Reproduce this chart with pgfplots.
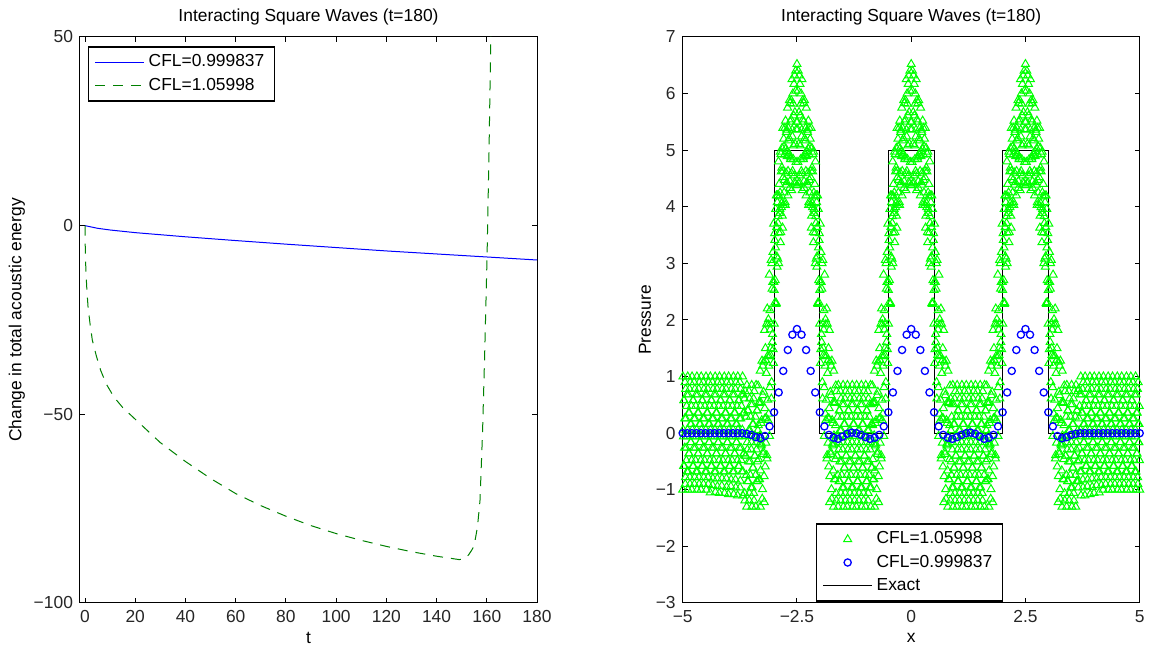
\documentclass[border=0pt]{standalone}
\usepackage{fontspec}
\setmainfont{Liberation Sans}
\usepackage{pgfplots}
\pgfplotsset{compat=1.18}
\newcommand\fs{\fontsize{8.7}{10}\selectfont}
\definecolor{mgreen}{rgb}{0,1,0}
\definecolor{dgreen}{rgb}{0,0.5,0}
\pgfplotsset{
  mat/.style={
    scale only axis, width=228.5pt, height=283pt, anchor=south west,
    font=\fs, tick align=inside, major tick length=2.5pt,
    axis line style={black, line width=0.5pt},
    every tick/.style={black, line width=0.5pt},
    tick label style={text=black!85},
    title={Interacting Square Waves (t=180)},
    every axis title shift=0pt,
    title style={at={(axis description cs:0.5,1.0353)}, anchor=center},
    xlabel style={at={(axis description cs:0.5,-0.0618)}, anchor=center},
    legend cell align=left,
    legend style={draw=black, line width=0.75pt, fill=white, font=\fs,
      inner xsep=3pt, inner ysep=2pt, row sep=0pt, nodes={inner sep=2pt}},
  },
  lline/.style={legend image code/.code={\draw[##1] (0pt,0pt) -- (24.5pt,0pt);}},
  lmark/.style={legend image code/.code={\path[draw=none] (0pt,0pt) -- (24.5pt,0pt);
      \draw[##1] plot coordinates {(12.25pt,0pt)};}},
  gtri/.style={only marks, mark=triangle, mark size=2.3pt, mgreen, line width=0.5pt},
}

\begin{document}
\begin{tikzpicture}
\useasboundingbox (0,0) rectangle (575pt,323pt);

% left: energy change
\begin{axis}[mat, at={(40pt,21.5pt)},
  xmin=-2, xmax=180, ymin=-100, ymax=50,
  xtick={0,20,40,60,80,100,120,140,160,180},
  xticklabels={0,20,40,60,80,100,120,140,160,180},
  ytick={-100,-50,0,50}, yticklabels={−100,−50,0,50},
  xlabel={t}, ylabel={Change in total acoustic energy},
  ylabel style={at={(axis description cs:-0.138,0.5)}, anchor=center},
  legend style={at={(0.0175,0.984)}, anchor=north west},
]
\addplot[blue, line width=0.5pt, lline] coordinates {
  (0,0) (5,-0.7) (10,-1.15) (20,-1.85) (40,-2.95) (60,-3.95) (80,-4.9)
  (100,-5.8) (120,-6.7) (140,-7.5) (160,-8.3) (180,-9.1)
};
\addplot[dgreen, line width=0.5pt, dash pattern=on 5pt off 4pt, lline] coordinates {
  (0,0) (0.05,-4) (0.15,-7.5) (0.3,-10.9) (0.5,-14) (0.7,-16.5) (1.2,-21.5)
  (2,-26) (2.9,-30.3) (4.5,-34.5) (6.2,-38.3) (8.5,-42) (11.5,-45.4) (15,-48.2)
  (20,-51.3) (30,-57.5) (40,-62.5) (50,-67) (60,-71) (70,-74.2) (80,-77)
  (90,-79.5) (100,-81.6) (110,-83.4) (120,-85) (130,-86.4) (140,-87.6)
  (145,-88.1) (149,-88.5) (151,-88.3) (152.7,-87.3) (154,-86) (155,-84.7)
  (156.3,-79.8) (157.3,-72.8) (158.3,-55) (159.2,-33) (160.1,-8.5)
  (160.9,20) (161.6,50) (162,65)
};
\legend{CFL=0.999837, CFL=1.05998}
\end{axis}

% right: pressure
\begin{axis}[mat, at={(341.35pt,21.5pt)},
  xmin=-5, xmax=5, ymin=-3, ymax=7,
  xtick={-5,-2.5,0,2.5,5}, xticklabels={−5,−2.5,0,2.5,5},
  ytick={-3,...,7}, yticklabels={−3,−2,−1,0,1,2,3,4,5,6,7},
  xlabel={x}, ylabel={Pressure},
  ylabel style={at={(axis description cs:-0.0824,0.5)}, anchor=center},
  legend style={at={(0.2915,0.1413)}, anchor=north west},
]
\addplot[gtri, lmark] coordinates {
(-5.00,-1.00)(-4.99,0.06)(-4.98,-0.58)(-4.97,0.58)(-4.96,-0.26)(-4.95,0.90)(-4.94,-0.78)(-4.93,0.26)(-4.92,-0.48)(-4.91,0.68)(-4.90,-0.06)(-4.89,1.00)(-4.88,-0.68)(-4.87,0.36)(-4.86,-0.36)(-4.85,0.78)(-4.84,-0.90)(-4.83,0.16)(-4.82,-0.16)(-4.81,0.48)
(-4.80,-1.00)(-4.79,0.06)(-4.78,-0.58)(-4.77,0.58)(-4.76,-0.26)(-4.75,0.90)(-4.74,-0.78)(-4.73,0.26)(-4.72,-0.48)(-4.71,0.68)(-4.70,-0.06)(-4.69,1.00)(-4.68,-0.68)(-4.67,0.36)(-4.66,-0.36)(-4.65,0.78)(-4.64,-0.90)(-4.63,0.16)(-4.62,-0.16)(-4.61,0.48)
(-4.60,-1.00)(-4.59,0.06)(-4.58,-0.58)(-4.57,0.58)(-4.56,-0.26)(-4.55,0.90)(-4.54,-0.78)(-4.53,0.26)(-4.52,-0.48)(-4.51,0.68)(-4.50,-0.06)(-4.49,1.00)(-4.48,-0.68)(-4.47,0.36)(-4.46,-0.36)(-4.45,0.78)(-4.44,-0.90)(-4.43,0.16)(-4.42,-0.16)(-4.41,0.48)
(-4.40,-1.05)(-4.39,0.06)(-4.38,-0.58)(-4.37,0.58)(-4.36,-0.26)(-4.35,0.90)(-4.34,-0.80)(-4.33,0.26)(-4.32,-0.48)(-4.31,0.68)(-4.30,-0.06)(-4.29,1.00)(-4.28,-0.68)(-4.27,0.36)(-4.26,-0.36)(-4.25,0.78)(-4.24,-0.94)(-4.23,0.16)(-4.22,-0.16)(-4.21,0.48)
(-4.20,-1.06)(-4.19,0.06)(-4.18,-0.58)(-4.17,0.58)(-4.16,-0.26)(-4.15,0.90)(-4.14,-0.80)(-4.13,0.26)(-4.12,-0.48)(-4.11,0.68)(-4.10,-0.06)(-4.09,1.00)(-4.08,-0.68)(-4.07,0.36)(-4.06,-0.36)(-4.05,0.78)(-4.04,-0.95)(-4.03,0.16)(-4.02,-0.16)(-4.01,0.48)
(-4.00,-1.08)(-3.99,0.06)(-3.98,-0.58)(-3.97,0.58)(-3.96,-0.26)(-3.95,0.90)(-3.94,-0.82)(-3.93,0.26)(-3.92,-0.48)(-3.91,0.68)(-3.90,-0.06)(-3.89,1.00)(-3.88,-0.68)(-3.87,0.36)(-3.86,-0.36)(-3.85,0.78)(-3.84,-0.96)(-3.83,0.16)(-3.82,-0.16)(-3.81,0.48)
(-3.80,-1.10)(-3.79,0.06)(-3.78,-0.58)(-3.77,0.58)(-3.76,-0.26)(-3.75,0.90)(-3.74,-0.84)(-3.73,0.26)(-3.72,-0.48)(-3.71,0.68)(-3.70,-0.06)(-3.69,1.00)(-3.68,-0.68)(-3.67,0.36)(-3.66,-0.36)
(-3.65,0.61)(-3.64,-1.19)(-3.63,-0.05)(-3.62,-0.40)(-3.61,0.29)(-3.60,-1.30)(-3.59,-0.16)(-3.58,-0.85)(-3.57,0.40)(-3.56,-0.50)(-3.55,0.74)(-3.54,-1.06)(-3.53,0.05)(-3.52,-0.74)(-3.51,0.51)(-3.50,-0.29)(-3.49,0.85)(-3.48,-0.96)(-3.47,0.16)(-3.46,-0.61)
(-3.45,0.61)(-3.44,-1.19)(-3.43,-0.05)(-3.42,-0.40)(-3.41,0.29)(-3.40,-1.30)(-3.39,-0.16)(-3.38,-0.85)(-3.37,0.40)(-3.36,-0.50)
(-3.35,0.84)(-3.34,-0.46)(-3.33,0.53)(-3.32,-0.81)(-3.31,-0.04)(-3.30,-1.30)(-3.29,0.54)(-3.28,-0.22)(-3.27,0.23)(-3.26,-1.16)(-3.25,1.19)(-3.24,-0.37)(-3.23,0.73)(-3.22,-0.76)(-3.21,1.82)(-3.20,0.26)(-3.19,1.50)(-3.18,-0.17)(-3.17,1.06)(-3.16,-0.39)
(-3.15,2.20)(-3.14,0.59)(-3.13,1.92)(-3.12,0.34)(-3.11,1.36)(-3.10,-0.05)(-3.09,2.17)(-3.08,1.38)(-3.07,1.94)(-3.06,0.61)(-3.05,3.00)(-3.04,1.61)(-3.03,2.67)(-3.02,1.48)(-3.01,3.70)(-3.00,2.53)(-2.99,3.53)(-2.98,2.31)(-2.97,3.28)(-2.96,2.28)
(-2.95,4.20)(-2.94,3.12)(-2.93,4.08)(-2.92,3.08)(-2.91,3.83)(-2.90,3.00)(-2.89,4.40)(-2.88,3.89)(-2.87,4.25)(-2.86,3.37)(-2.85,4.93)(-2.84,3.99)(-2.83,4.69)(-2.82,3.84)(-2.81,5.39)(-2.80,4.52)(-2.79,5.20)(-2.78,4.25)(-2.77,4.92)(-2.76,4.08)
(-2.75,5.52)(-2.74,4.60)(-2.73,5.32)(-2.72,4.43)(-2.71,4.98)(-2.70,4.20)(-2.69,5.39)(-2.68,4.91)(-2.67,5.21)(-2.66,4.33)(-2.65,5.83)(-2.64,4.84)(-2.63,5.54)(-2.62,4.59)(-2.61,6.25)(-2.60,5.24)(-2.59,6.00)(-2.58,4.84)(-2.57,5.61)(-2.56,4.55)
(-2.55,6.32)(-2.54,5.11)(-2.53,6.40)(-2.52,4.79)(-2.51,5.50)(-2.50,6.52)
(-2.49,5.50)(-2.48,4.79)(-2.47,6.40)(-2.46,5.11)(-2.45,6.32)(-2.44,4.55)(-2.43,5.61)(-2.42,4.84)(-2.41,6.00)(-2.40,5.24)(-2.39,6.25)(-2.38,4.59)(-2.37,5.54)(-2.36,4.84)(-2.35,5.83)(-2.34,4.33)(-2.33,5.21)(-2.32,4.91)(-2.31,5.39)(-2.30,4.20)
(-2.29,4.98)(-2.28,4.43)(-2.27,5.32)(-2.26,4.60)(-2.25,5.52)(-2.24,4.08)(-2.23,4.92)(-2.22,4.25)(-2.21,5.20)(-2.20,4.52)(-2.19,5.39)(-2.18,3.84)(-2.17,4.69)(-2.16,3.99)(-2.15,4.93)(-2.14,3.37)(-2.13,4.25)(-2.12,3.89)(-2.11,4.40)(-2.10,3.00)
(-2.09,3.83)(-2.08,3.08)(-2.07,4.08)(-2.06,3.12)(-2.05,4.20)(-2.04,2.28)(-2.03,3.28)(-2.02,2.31)(-2.01,3.53)(-2.00,2.53)(-1.99,3.70)(-1.98,1.48)(-1.97,2.67)(-1.96,1.61)(-1.95,3.00)(-1.94,0.61)(-1.93,1.94)(-1.92,1.38)(-1.91,2.17)(-1.90,-0.05)
(-1.89,1.36)(-1.88,0.34)(-1.87,1.92)(-1.86,0.59)(-1.85,2.20)(-1.84,-0.39)(-1.83,1.06)(-1.82,-0.17)(-1.81,1.50)(-1.80,0.26)(-1.79,1.82)(-1.78,-0.76)(-1.77,0.73)(-1.76,-0.37)(-1.75,1.19)(-1.74,-1.16)(-1.73,0.23)(-1.72,-0.22)(-1.71,0.54)(-1.70,-1.30)
(-1.69,-0.04)(-1.68,-0.81)(-1.67,0.53)(-1.66,-0.46)(-1.65,0.84)
(-1.64,-1.19)(-1.63,-0.05)(-1.62,-0.40)(-1.61,0.29)
(-1.60,-1.30)(-1.59,-0.16)(-1.58,-0.85)(-1.57,0.40)(-1.56,-0.50)(-1.55,0.74)(-1.54,-1.06)(-1.53,0.05)(-1.52,-0.74)(-1.51,0.51)(-1.50,-0.29)(-1.49,0.85)(-1.48,-0.96)(-1.47,0.16)(-1.46,-0.61)(-1.45,0.61)(-1.44,-1.19)(-1.43,-0.05)(-1.42,-0.40)(-1.41,0.29)
(-1.40,-1.30)(-1.39,-0.16)(-1.38,-0.85)(-1.37,0.40)(-1.36,-0.50)(-1.35,0.74)(-1.34,-1.06)(-1.33,0.05)(-1.32,-0.74)(-1.31,0.51)(-1.30,-0.29)(-1.29,0.85)(-1.28,-0.96)(-1.27,0.16)(-1.26,-0.61)(-1.25,0.61)(-1.24,-1.19)(-1.23,-0.05)(-1.22,-0.40)(-1.21,0.29)
(-1.20,-1.30)(-1.19,-0.16)(-1.18,-0.85)(-1.17,0.40)(-1.16,-0.50)(-1.15,0.74)(-1.14,-1.06)(-1.13,0.05)(-1.12,-0.74)(-1.11,0.51)(-1.10,-0.29)(-1.09,0.85)(-1.08,-0.96)(-1.07,0.16)(-1.06,-0.61)(-1.05,0.61)(-1.04,-1.19)(-1.03,-0.05)(-1.02,-0.40)(-1.01,0.29)
(-1.00,-1.30)(-0.99,-0.16)(-0.98,-0.85)(-0.97,0.40)(-0.96,-0.50)(-0.95,0.74)(-0.94,-1.06)(-0.93,0.05)(-0.92,-0.74)(-0.91,0.51)(-0.90,-0.29)(-0.89,0.85)(-0.88,-0.96)(-0.87,0.16)(-0.86,-0.61)
(-0.85,0.84)(-0.84,-0.46)(-0.83,0.53)(-0.82,-0.81)(-0.81,-0.04)(-0.80,-1.30)(-0.79,0.54)(-0.78,-0.22)(-0.77,0.23)(-0.76,-1.16)(-0.75,1.19)(-0.74,-0.37)(-0.73,0.73)(-0.72,-0.76)(-0.71,1.82)(-0.70,0.26)(-0.69,1.50)(-0.68,-0.17)(-0.67,1.06)(-0.66,-0.39)
(-0.65,2.20)(-0.64,0.59)(-0.63,1.92)(-0.62,0.34)(-0.61,1.36)(-0.60,-0.05)(-0.59,2.17)(-0.58,1.38)(-0.57,1.94)(-0.56,0.61)(-0.55,3.00)(-0.54,1.61)(-0.53,2.67)(-0.52,1.48)(-0.51,3.70)(-0.50,2.53)(-0.49,3.53)(-0.48,2.31)(-0.47,3.28)(-0.46,2.28)
(-0.45,4.20)(-0.44,3.12)(-0.43,4.08)(-0.42,3.08)(-0.41,3.83)(-0.40,3.00)(-0.39,4.40)(-0.38,3.89)(-0.37,4.25)(-0.36,3.37)(-0.35,4.93)(-0.34,3.99)(-0.33,4.69)(-0.32,3.84)(-0.31,5.39)(-0.30,4.52)(-0.29,5.20)(-0.28,4.25)(-0.27,4.92)(-0.26,4.08)
(-0.25,5.52)(-0.24,4.60)(-0.23,5.32)(-0.22,4.43)(-0.21,4.98)(-0.20,4.20)(-0.19,5.39)(-0.18,4.91)(-0.17,5.21)(-0.16,4.33)(-0.15,5.83)(-0.14,4.84)(-0.13,5.54)(-0.12,4.59)(-0.11,6.25)(-0.10,5.24)(-0.09,6.00)(-0.08,4.84)(-0.07,5.61)(-0.06,4.55)
(-0.05,6.32)(-0.04,5.11)(-0.03,6.40)(-0.02,4.79)(-0.01,5.50)(0.00,6.52)
(0.01,5.50)(0.02,4.79)(0.03,6.40)(0.04,5.11)(0.05,6.32)(0.06,4.55)(0.07,5.61)(0.08,4.84)(0.09,6.00)(0.10,5.24)(0.11,6.25)(0.12,4.59)(0.13,5.54)(0.14,4.84)(0.15,5.83)(0.16,4.33)(0.17,5.21)(0.18,4.91)(0.19,5.39)(0.20,4.20)
(0.21,4.98)(0.22,4.43)(0.23,5.32)(0.24,4.60)(0.25,5.52)(0.26,4.08)(0.27,4.92)(0.28,4.25)(0.29,5.20)(0.30,4.52)(0.31,5.39)(0.32,3.84)(0.33,4.69)(0.34,3.99)(0.35,4.93)(0.36,3.37)(0.37,4.25)(0.38,3.89)(0.39,4.40)(0.40,3.00)
(0.41,3.83)(0.42,3.08)(0.43,4.08)(0.44,3.12)(0.45,4.20)(0.46,2.28)(0.47,3.28)(0.48,2.31)(0.49,3.53)(0.50,2.53)(0.51,3.70)(0.52,1.48)(0.53,2.67)(0.54,1.61)(0.55,3.00)(0.56,0.61)(0.57,1.94)(0.58,1.38)(0.59,2.17)(0.60,-0.05)
(0.61,1.36)(0.62,0.34)(0.63,1.92)(0.64,0.59)(0.65,2.20)(0.66,-0.39)(0.67,1.06)(0.68,-0.17)(0.69,1.50)(0.70,0.26)(0.71,1.82)(0.72,-0.76)(0.73,0.73)(0.74,-0.37)(0.75,1.19)(0.76,-1.16)(0.77,0.23)(0.78,-0.22)(0.79,0.54)(0.80,-1.30)
(0.81,-0.04)(0.82,-0.81)(0.83,0.53)(0.84,-0.46)(0.85,0.84)
(0.86,-1.06)(0.87,0.05)(0.88,-0.74)(0.89,0.51)(0.90,-0.29)(0.91,0.85)(0.92,-0.96)(0.93,0.16)(0.94,-0.61)(0.95,0.61)(0.96,-1.19)(0.97,-0.05)(0.98,-0.40)(0.99,0.29)
(1.00,-1.30)(1.01,-0.16)(1.02,-0.85)(1.03,0.40)(1.04,-0.50)(1.05,0.74)(1.06,-1.06)(1.07,0.05)(1.08,-0.74)(1.09,0.51)(1.10,-0.29)(1.11,0.85)(1.12,-0.96)(1.13,0.16)(1.14,-0.61)(1.15,0.61)(1.16,-1.19)(1.17,-0.05)(1.18,-0.40)(1.19,0.29)
(1.20,-1.30)(1.21,-0.16)(1.22,-0.85)(1.23,0.40)(1.24,-0.50)(1.25,0.74)(1.26,-1.06)(1.27,0.05)(1.28,-0.74)(1.29,0.51)(1.30,-0.29)(1.31,0.85)(1.32,-0.96)(1.33,0.16)(1.34,-0.61)(1.35,0.61)(1.36,-1.19)(1.37,-0.05)(1.38,-0.40)(1.39,0.29)
(1.40,-1.30)(1.41,-0.16)(1.42,-0.85)(1.43,0.40)(1.44,-0.50)(1.45,0.74)(1.46,-1.06)(1.47,0.05)(1.48,-0.74)(1.49,0.51)(1.50,-0.29)(1.51,0.85)(1.52,-0.96)(1.53,0.16)(1.54,-0.61)(1.55,0.61)(1.56,-1.19)(1.57,-0.05)(1.58,-0.40)(1.59,0.29)
(1.60,-1.30)(1.61,-0.16)(1.62,-0.85)(1.63,0.40)(1.64,-0.50)
(1.65,0.84)(1.66,-0.46)(1.67,0.53)(1.68,-0.81)(1.69,-0.04)(1.70,-1.30)(1.71,0.54)(1.72,-0.22)(1.73,0.23)(1.74,-1.16)(1.75,1.19)(1.76,-0.37)(1.77,0.73)(1.78,-0.76)(1.79,1.82)(1.80,0.26)(1.81,1.50)(1.82,-0.17)(1.83,1.06)(1.84,-0.39)
(1.85,2.20)(1.86,0.59)(1.87,1.92)(1.88,0.34)(1.89,1.36)(1.90,-0.05)(1.91,2.17)(1.92,1.38)(1.93,1.94)(1.94,0.61)(1.95,3.00)(1.96,1.61)(1.97,2.67)(1.98,1.48)(1.99,3.70)(2.00,2.53)(2.01,3.53)(2.02,2.31)(2.03,3.28)(2.04,2.28)
(2.05,4.20)(2.06,3.12)(2.07,4.08)(2.08,3.08)(2.09,3.83)(2.10,3.00)(2.11,4.40)(2.12,3.89)(2.13,4.25)(2.14,3.37)(2.15,4.93)(2.16,3.99)(2.17,4.69)(2.18,3.84)(2.19,5.39)(2.20,4.52)(2.21,5.20)(2.22,4.25)(2.23,4.92)(2.24,4.08)
(2.25,5.52)(2.26,4.60)(2.27,5.32)(2.28,4.43)(2.29,4.98)(2.30,4.20)(2.31,5.39)(2.32,4.91)(2.33,5.21)(2.34,4.33)(2.35,5.83)(2.36,4.84)(2.37,5.54)(2.38,4.59)(2.39,6.25)(2.40,5.24)(2.41,6.00)(2.42,4.84)(2.43,5.61)(2.44,4.55)
(2.45,6.32)(2.46,5.11)(2.47,6.40)(2.48,4.79)(2.49,5.50)(2.50,6.52)
(2.51,5.50)(2.52,4.79)(2.53,6.40)(2.54,5.11)(2.55,6.32)(2.56,4.55)(2.57,5.61)(2.58,4.84)(2.59,6.00)(2.60,5.24)(2.61,6.25)(2.62,4.59)(2.63,5.54)(2.64,4.84)(2.65,5.83)(2.66,4.33)(2.67,5.21)(2.68,4.91)(2.69,5.39)(2.70,4.20)
(2.71,4.98)(2.72,4.43)(2.73,5.32)(2.74,4.60)(2.75,5.52)(2.76,4.08)(2.77,4.92)(2.78,4.25)(2.79,5.20)(2.80,4.52)(2.81,5.39)(2.82,3.84)(2.83,4.69)(2.84,3.99)(2.85,4.93)(2.86,3.37)(2.87,4.25)(2.88,3.89)(2.89,4.40)(2.90,3.00)
(2.91,3.83)(2.92,3.08)(2.93,4.08)(2.94,3.12)(2.95,4.20)(2.96,2.28)(2.97,3.28)(2.98,2.31)(2.99,3.53)(3.00,2.53)(3.01,3.70)(3.02,1.48)(3.03,2.67)(3.04,1.61)(3.05,3.00)(3.06,0.61)(3.07,1.94)(3.08,1.38)(3.09,2.17)(3.10,-0.05)
(3.11,1.36)(3.12,0.34)(3.13,1.92)(3.14,0.59)(3.15,2.20)(3.16,-0.39)(3.17,1.06)(3.18,-0.17)(3.19,1.50)(3.20,0.26)(3.21,1.82)(3.22,-0.76)(3.23,0.73)(3.24,-0.37)(3.25,1.19)(3.26,-1.16)(3.27,0.23)(3.28,-0.22)(3.29,0.54)(3.30,-1.30)
(3.31,-0.04)(3.32,-0.81)(3.33,0.53)(3.34,-0.46)(3.35,0.84)
(3.36,-1.19)(3.37,-0.05)(3.38,-0.40)(3.39,0.29)
(3.40,-1.30)(3.41,-0.16)(3.42,-0.85)(3.43,0.40)(3.44,-0.50)(3.45,0.74)(3.46,-1.06)(3.47,0.05)(3.48,-0.74)(3.49,0.51)(3.50,-0.29)(3.51,0.85)(3.52,-0.96)(3.53,0.16)(3.54,-0.61)(3.55,0.61)(3.56,-1.19)(3.57,-0.05)(3.58,-0.40)(3.59,0.29)
(3.60,-1.30)(3.61,-0.16)(3.62,-0.85)(3.63,0.40)(3.64,-0.50)(3.65,0.74)
(3.66,-0.84)(3.67,0.26)(3.68,-0.48)(3.69,0.68)(3.70,-0.06)(3.71,1.00)(3.72,-0.68)(3.73,0.36)(3.74,-0.36)(3.75,0.78)(3.76,-0.96)(3.77,0.16)(3.78,-0.16)(3.79,0.48)
(3.80,-1.10)(3.81,0.06)(3.82,-0.58)(3.83,0.58)(3.84,-0.26)(3.85,0.90)(3.86,-0.82)(3.87,0.26)(3.88,-0.48)(3.89,0.68)(3.90,-0.06)(3.91,1.00)(3.92,-0.68)(3.93,0.36)(3.94,-0.36)(3.95,0.78)(3.96,-0.95)(3.97,0.16)(3.98,-0.16)(3.99,0.48)
(4.00,-1.06)(4.01,0.06)(4.02,-0.58)(4.03,0.58)(4.04,-0.26)(4.05,0.90)(4.06,-0.80)(4.07,0.26)(4.08,-0.48)(4.09,0.68)(4.10,-0.06)(4.11,1.00)(4.12,-0.68)(4.13,0.36)(4.14,-0.36)(4.15,0.78)(4.16,-0.92)(4.17,0.16)(4.18,-0.16)(4.19,0.48)
(4.20,-1.00)(4.21,0.06)(4.22,-0.58)(4.23,0.58)(4.24,-0.26)(4.25,0.90)(4.26,-0.78)(4.27,0.26)(4.28,-0.48)(4.29,0.68)(4.30,-0.06)(4.31,1.00)(4.32,-0.68)(4.33,0.36)(4.34,-0.36)(4.35,0.78)(4.36,-0.90)(4.37,0.16)(4.38,-0.16)(4.39,0.48)
(4.40,-1.00)(4.41,0.06)(4.42,-0.58)(4.43,0.58)(4.44,-0.26)(4.45,0.90)(4.46,-0.78)(4.47,0.26)(4.48,-0.48)(4.49,0.68)(4.50,-0.06)(4.51,1.00)(4.52,-0.68)(4.53,0.36)(4.54,-0.36)(4.55,0.78)(4.56,-0.90)(4.57,0.16)(4.58,-0.16)(4.59,0.48)
(4.60,-1.00)(4.61,0.06)(4.62,-0.58)(4.63,0.58)(4.64,-0.26)(4.65,0.90)(4.66,-0.78)(4.67,0.26)(4.68,-0.48)(4.69,0.68)(4.70,-0.06)(4.71,1.00)(4.72,-0.68)(4.73,0.36)(4.74,-0.36)(4.75,0.78)(4.76,-0.90)(4.77,0.16)(4.78,-0.16)(4.79,0.48)
(4.80,-1.00)(4.81,0.06)(4.82,-0.58)(4.83,0.58)(4.84,-0.26)(4.85,0.90)(4.86,-0.78)(4.87,0.26)(4.88,-0.48)(4.89,0.68)(4.90,-0.06)(4.91,1.00)(4.92,-0.68)(4.93,0.36)(4.94,-0.36)(4.95,0.78)(4.96,-0.90)(4.97,0.16)(4.98,-0.16)(4.99,0.48)
(5.00,-1.00)
};
% same series, points at the half steps
\addplot[gtri, forget plot] coordinates {
(-4.995,1.00)(-4.985,-0.06)(-4.975,0.58)(-4.965,-0.58)(-4.955,0.26)(-4.945,-0.90)(-4.935,0.78)(-4.925,-0.26)(-4.915,0.48)(-4.905,-0.68)(-4.895,0.06)(-4.885,-1.00)(-4.875,0.68)(-4.865,-0.36)(-4.855,0.36)(-4.845,-0.78)(-4.835,0.90)(-4.825,-0.16)(-4.815,0.16)(-4.805,-0.48)
(-4.795,1.00)(-4.785,-0.06)(-4.775,0.58)(-4.765,-0.58)(-4.755,0.26)(-4.745,-0.90)(-4.735,0.78)(-4.725,-0.26)(-4.715,0.48)(-4.705,-0.68)(-4.695,0.06)(-4.685,-1.00)(-4.675,0.68)(-4.665,-0.36)(-4.655,0.36)(-4.645,-0.78)(-4.635,0.90)(-4.625,-0.16)(-4.615,0.16)(-4.605,-0.48)
(-4.595,1.00)(-4.585,-0.06)(-4.575,0.58)(-4.565,-0.58)(-4.555,0.26)(-4.545,-0.90)(-4.535,0.78)(-4.525,-0.26)(-4.515,0.48)(-4.505,-0.68)(-4.495,0.06)(-4.485,-1.00)(-4.475,0.68)(-4.465,-0.36)(-4.455,0.36)(-4.445,-0.78)(-4.435,0.90)(-4.425,-0.16)(-4.415,0.16)(-4.405,-0.48)
(-4.395,1.00)(-4.385,-0.06)(-4.375,0.58)(-4.365,-0.58)(-4.355,0.26)(-4.345,-0.92)(-4.335,0.78)(-4.325,-0.26)(-4.315,0.48)(-4.305,-0.68)(-4.295,0.06)(-4.285,-1.04)(-4.275,0.68)(-4.265,-0.36)(-4.255,0.36)(-4.245,-0.80)(-4.235,0.90)(-4.225,-0.16)(-4.215,0.16)(-4.205,-0.48)
(-4.195,1.00)(-4.185,-0.06)(-4.175,0.58)(-4.165,-0.58)(-4.155,0.26)(-4.145,-0.93)(-4.135,0.78)(-4.125,-0.26)(-4.115,0.48)(-4.105,-0.68)(-4.095,0.06)(-4.085,-1.06)(-4.075,0.68)(-4.065,-0.36)(-4.055,0.36)(-4.045,-0.80)(-4.035,0.90)(-4.025,-0.16)(-4.015,0.16)(-4.005,-0.48)
(-3.995,1.00)(-3.985,-0.06)(-3.975,0.58)(-3.965,-0.58)(-3.955,0.26)(-3.945,-0.94)(-3.935,0.78)(-3.925,-0.26)(-3.915,0.48)(-3.905,-0.68)(-3.895,0.06)(-3.885,-1.08)(-3.875,0.68)(-3.865,-0.36)(-3.855,0.36)(-3.845,-0.82)(-3.835,0.90)(-3.825,-0.16)(-3.815,0.16)(-3.805,-0.48)
(-3.795,1.00)(-3.785,-0.06)(-3.775,0.58)(-3.765,-0.58)(-3.755,0.26)(-3.745,-0.96)(-3.735,0.78)(-3.725,-0.26)(-3.715,0.48)(-3.705,-0.68)(-3.695,0.06)(-3.685,-1.10)(-3.675,0.68)(-3.665,-0.36)(-3.655,0.36)
(-3.645,-1.06)(-3.635,0.74)(-3.625,-0.40)(-3.615,-0.05)(-3.605,-0.74)(-3.595,0.85)(-3.585,-0.29)(-3.575,0.40)(-3.565,-0.85)(-3.555,0.05)(-3.545,-1.19)(-3.535,0.61)(-3.525,-0.50)(-3.515,0.29)(-3.505,-0.96)(-3.495,-0.16)(-3.485,-1.30)(-3.475,0.51)(-3.465,-0.61)(-3.455,0.16)
(-3.445,-1.06)(-3.435,0.74)(-3.425,-0.40)(-3.415,-0.05)(-3.405,-0.74)(-3.395,0.85)(-3.385,-0.29)(-3.375,0.40)(-3.365,-0.85)(-3.355,0.05)
(-3.345,0.14)(-3.335,-0.82)(-3.325,0.55)(-3.315,-0.19)(-3.305,1.10)(-3.295,-0.66)(-3.285,0.18)(-3.275,-0.19)(-3.265,1.28)(-3.255,-0.99)(-3.245,0.67)(-3.235,-0.33)(-3.225,1.26)(-3.215,-1.22)(-3.205,0.44)(-3.195,-0.59)(-3.185,1.29)(-3.175,0.27)(-3.165,1.93)(-3.155,-0.45)
(-3.145,1.36)(-3.135,0.23)(-3.125,2.01)(-3.115,1.19)(-3.105,2.80)(-3.095,0.81)(-3.085,1.83)(-3.075,1.50)(-3.065,3.06)(-3.055,0.90)(-3.045,2.55)(-3.035,1.75)(-3.025,3.20)(-3.015,1.24)(-3.005,2.67)(-2.995,1.93)(-2.985,3.41)(-2.975,2.70)(-2.965,3.96)(-2.955,2.30)
(-2.945,3.64)(-2.935,2.94)(-2.925,4.20)(-2.915,3.71)(-2.905,4.80)(-2.895,3.54)(-2.885,4.18)(-2.875,3.96)(-2.865,4.97)(-2.855,3.55)(-2.845,4.62)(-2.835,4.06)(-2.825,5.04)(-2.815,3.63)(-2.805,4.63)(-2.795,4.03)(-2.785,5.06)(-2.775,4.47)(-2.765,5.39)(-2.755,4.03)
(-2.745,5.03)(-2.735,4.39)(-2.725,5.36)(-2.715,4.89)(-2.705,5.75)(-2.695,4.63)(-2.685,5.17)(-2.675,4.94)(-2.665,5.88)(-2.655,4.45)(-2.645,5.50)(-2.635,4.87)(-2.625,5.88)(-2.615,4.29)(-2.605,5.36)(-2.595,4.63)(-2.585,5.82)(-2.575,5.08)(-2.565,6.17)(-2.555,4.43)
(-2.545,5.67)(-2.535,4.41)(-2.525,6.05)(-2.515,5.37)(-2.505,4.38)
(-2.495,4.38)(-2.485,5.37)(-2.475,6.05)(-2.465,4.41)(-2.455,5.67)(-2.445,4.43)(-2.435,6.17)(-2.425,5.08)(-2.415,5.82)(-2.405,4.63)(-2.395,5.36)(-2.385,4.29)(-2.375,5.88)(-2.365,4.87)(-2.355,5.50)(-2.345,4.45)(-2.335,5.88)(-2.325,4.94)(-2.315,5.17)(-2.305,4.63)
(-2.295,5.75)(-2.285,4.89)(-2.275,5.36)(-2.265,4.39)(-2.255,5.03)(-2.245,4.03)(-2.235,5.39)(-2.225,4.47)(-2.215,5.06)(-2.205,4.03)(-2.195,4.63)(-2.185,3.63)(-2.175,5.04)(-2.165,4.06)(-2.155,4.62)(-2.145,3.55)(-2.135,4.97)(-2.125,3.96)(-2.115,4.18)(-2.105,3.54)
(-2.095,4.80)(-2.085,3.71)(-2.075,4.20)(-2.065,2.94)(-2.055,3.64)(-2.045,2.30)(-2.035,3.96)(-2.025,2.70)(-2.015,3.41)(-2.005,1.93)(-1.995,2.67)(-1.985,1.24)(-1.975,3.20)(-1.965,1.75)(-1.955,2.55)(-1.945,0.90)(-1.935,3.06)(-1.925,1.50)(-1.915,1.83)(-1.905,0.81)
(-1.895,2.80)(-1.885,1.19)(-1.875,2.01)(-1.865,0.23)(-1.855,1.36)(-1.845,-0.45)(-1.835,1.93)(-1.825,0.27)(-1.815,1.29)(-1.805,-0.59)(-1.795,0.44)(-1.785,-1.22)(-1.775,1.26)(-1.765,-0.33)(-1.755,0.67)(-1.745,-0.99)(-1.735,1.28)(-1.725,-0.19)(-1.715,0.18)(-1.705,-0.66)
(-1.695,1.10)(-1.685,-0.19)(-1.675,0.55)(-1.665,-0.82)(-1.655,0.14)
(-1.645,-1.06)(-1.635,0.74)(-1.625,-0.40)(-1.615,-0.05)(-1.605,-0.74)
(-1.595,0.85)(-1.585,-0.29)(-1.575,0.40)(-1.565,-0.85)(-1.555,0.05)(-1.545,-1.19)(-1.535,0.61)(-1.525,-0.50)(-1.515,0.29)(-1.505,-0.96)(-1.495,-0.16)(-1.485,-1.30)(-1.475,0.51)(-1.465,-0.61)(-1.455,0.16)(-1.445,-1.06)(-1.435,0.74)(-1.425,-0.40)(-1.415,-0.05)(-1.405,-0.74)
(-1.395,0.85)(-1.385,-0.29)(-1.375,0.40)(-1.365,-0.85)(-1.355,0.05)(-1.345,-1.19)(-1.335,0.61)(-1.325,-0.50)(-1.315,0.29)(-1.305,-0.96)(-1.295,-0.16)(-1.285,-1.30)(-1.275,0.51)(-1.265,-0.61)(-1.255,0.16)(-1.245,-1.06)(-1.235,0.74)(-1.225,-0.40)(-1.215,-0.05)(-1.205,-0.74)
(-1.195,0.85)(-1.185,-0.29)(-1.175,0.40)(-1.165,-0.85)(-1.155,0.05)(-1.145,-1.19)(-1.135,0.61)(-1.125,-0.50)(-1.115,0.29)(-1.105,-0.96)(-1.095,-0.16)(-1.085,-1.30)(-1.075,0.51)(-1.065,-0.61)(-1.055,0.16)(-1.045,-1.06)(-1.035,0.74)(-1.025,-0.40)(-1.015,-0.05)(-1.005,-0.74)
(-0.995,0.85)(-0.985,-0.29)(-0.975,0.40)(-0.965,-0.85)(-0.955,0.05)(-0.945,-1.19)(-0.935,0.61)(-0.925,-0.50)(-0.915,0.29)(-0.905,-0.96)(-0.895,-0.16)(-0.885,-1.30)(-0.875,0.51)(-0.865,-0.61)(-0.855,0.16)
(-0.845,0.14)(-0.835,-0.82)(-0.825,0.55)(-0.815,-0.19)(-0.805,1.10)(-0.795,-0.66)(-0.785,0.18)(-0.775,-0.19)(-0.765,1.28)(-0.755,-0.99)(-0.745,0.67)(-0.735,-0.33)(-0.725,1.26)(-0.715,-1.22)(-0.705,0.44)(-0.695,-0.59)(-0.685,1.29)(-0.675,0.27)(-0.665,1.93)(-0.655,-0.45)
(-0.645,1.36)(-0.635,0.23)(-0.625,2.01)(-0.615,1.19)(-0.605,2.80)(-0.595,0.81)(-0.585,1.83)(-0.575,1.50)(-0.565,3.06)(-0.555,0.90)(-0.545,2.55)(-0.535,1.75)(-0.525,3.20)(-0.515,1.24)(-0.505,2.67)(-0.495,1.93)(-0.485,3.41)(-0.475,2.70)(-0.465,3.96)(-0.455,2.30)
(-0.445,3.64)(-0.435,2.94)(-0.425,4.20)(-0.415,3.71)(-0.405,4.80)(-0.395,3.54)(-0.385,4.18)(-0.375,3.96)(-0.365,4.97)(-0.355,3.55)(-0.345,4.62)(-0.335,4.06)(-0.325,5.04)(-0.315,3.63)(-0.305,4.63)(-0.295,4.03)(-0.285,5.06)(-0.275,4.47)(-0.265,5.39)(-0.255,4.03)
(-0.245,5.03)(-0.235,4.39)(-0.225,5.36)(-0.215,4.89)(-0.205,5.75)(-0.195,4.63)(-0.185,5.17)(-0.175,4.94)(-0.165,5.88)(-0.155,4.45)(-0.145,5.50)(-0.135,4.87)(-0.125,5.88)(-0.115,4.29)(-0.105,5.36)(-0.095,4.63)(-0.085,5.82)(-0.075,5.08)(-0.065,6.17)(-0.055,4.43)
(-0.045,5.67)(-0.035,4.41)(-0.025,6.05)(-0.015,5.37)(-0.005,4.38)
(0.005,4.38)(0.015,5.37)(0.025,6.05)(0.035,4.41)(0.045,5.67)(0.055,4.43)(0.065,6.17)(0.075,5.08)(0.085,5.82)(0.095,4.63)(0.105,5.36)(0.115,4.29)(0.125,5.88)(0.135,4.87)(0.145,5.50)(0.155,4.45)(0.165,5.88)(0.175,4.94)(0.185,5.17)(0.195,4.63)
(0.205,5.75)(0.215,4.89)(0.225,5.36)(0.235,4.39)(0.245,5.03)(0.255,4.03)(0.265,5.39)(0.275,4.47)(0.285,5.06)(0.295,4.03)(0.305,4.63)(0.315,3.63)(0.325,5.04)(0.335,4.06)(0.345,4.62)(0.355,3.55)(0.365,4.97)(0.375,3.96)(0.385,4.18)(0.395,3.54)
(0.405,4.80)(0.415,3.71)(0.425,4.20)(0.435,2.94)(0.445,3.64)(0.455,2.30)(0.465,3.96)(0.475,2.70)(0.485,3.41)(0.495,1.93)(0.505,2.67)(0.515,1.24)(0.525,3.20)(0.535,1.75)(0.545,2.55)(0.555,0.90)(0.565,3.06)(0.575,1.50)(0.585,1.83)(0.595,0.81)
(0.605,2.80)(0.615,1.19)(0.625,2.01)(0.635,0.23)(0.645,1.36)(0.655,-0.45)(0.665,1.93)(0.675,0.27)(0.685,1.29)(0.695,-0.59)(0.705,0.44)(0.715,-1.22)(0.725,1.26)(0.735,-0.33)(0.745,0.67)(0.755,-0.99)(0.765,1.28)(0.775,-0.19)(0.785,0.18)(0.795,-0.66)
(0.805,1.10)(0.815,-0.19)(0.825,0.55)(0.835,-0.82)(0.845,0.14)
(0.855,-1.19)(0.865,0.61)(0.875,-0.50)(0.885,0.29)(0.895,-0.96)(0.905,-0.16)(0.915,-1.30)(0.925,0.51)(0.935,-0.61)(0.945,0.16)(0.955,-1.06)(0.965,0.74)(0.975,-0.40)(0.985,-0.05)(0.995,-0.74)
(1.005,0.85)(1.015,-0.29)(1.025,0.40)(1.035,-0.85)(1.045,0.05)(1.055,-1.19)(1.065,0.61)(1.075,-0.50)(1.085,0.29)(1.095,-0.96)(1.105,-0.16)(1.115,-1.30)(1.125,0.51)(1.135,-0.61)(1.145,0.16)(1.155,-1.06)(1.165,0.74)(1.175,-0.40)(1.185,-0.05)(1.195,-0.74)
(1.205,0.85)(1.215,-0.29)(1.225,0.40)(1.235,-0.85)(1.245,0.05)(1.255,-1.19)(1.265,0.61)(1.275,-0.50)(1.285,0.29)(1.295,-0.96)(1.305,-0.16)(1.315,-1.30)(1.325,0.51)(1.335,-0.61)(1.345,0.16)(1.355,-1.06)(1.365,0.74)(1.375,-0.40)(1.385,-0.05)(1.395,-0.74)
(1.405,0.85)(1.415,-0.29)(1.425,0.40)(1.435,-0.85)(1.445,0.05)(1.455,-1.19)(1.465,0.61)(1.475,-0.50)(1.485,0.29)(1.495,-0.96)(1.505,-0.16)(1.515,-1.30)(1.525,0.51)(1.535,-0.61)(1.545,0.16)(1.555,-1.06)(1.565,0.74)(1.575,-0.40)(1.585,-0.05)(1.595,-0.74)
(1.605,0.85)(1.615,-0.29)(1.625,0.40)(1.635,-0.85)(1.645,0.05)
(1.655,0.14)(1.665,-0.82)(1.675,0.55)(1.685,-0.19)(1.695,1.10)(1.705,-0.66)(1.715,0.18)(1.725,-0.19)(1.735,1.28)(1.745,-0.99)(1.755,0.67)(1.765,-0.33)(1.775,1.26)(1.785,-1.22)(1.795,0.44)(1.805,-0.59)(1.815,1.29)(1.825,0.27)(1.835,1.93)(1.845,-0.45)
(1.855,1.36)(1.865,0.23)(1.875,2.01)(1.885,1.19)(1.895,2.80)(1.905,0.81)(1.915,1.83)(1.925,1.50)(1.935,3.06)(1.945,0.90)(1.955,2.55)(1.965,1.75)(1.975,3.20)(1.985,1.24)(1.995,2.67)(2.005,1.93)(2.015,3.41)(2.025,2.70)(2.035,3.96)(2.045,2.30)
(2.055,3.64)(2.065,2.94)(2.075,4.20)(2.085,3.71)(2.095,4.80)(2.105,3.54)(2.115,4.18)(2.125,3.96)(2.135,4.97)(2.145,3.55)(2.155,4.62)(2.165,4.06)(2.175,5.04)(2.185,3.63)(2.195,4.63)(2.205,4.03)(2.215,5.06)(2.225,4.47)(2.235,5.39)(2.245,4.03)
(2.255,5.03)(2.265,4.39)(2.275,5.36)(2.285,4.89)(2.295,5.75)(2.305,4.63)(2.315,5.17)(2.325,4.94)(2.335,5.88)(2.345,4.45)(2.355,5.50)(2.365,4.87)(2.375,5.88)(2.385,4.29)(2.395,5.36)(2.405,4.63)(2.415,5.82)(2.425,5.08)(2.435,6.17)(2.445,4.43)
(2.455,5.67)(2.465,4.41)(2.475,6.05)(2.485,5.37)(2.495,4.38)
(2.505,4.38)(2.515,5.37)(2.525,6.05)(2.535,4.41)(2.545,5.67)(2.555,4.43)(2.565,6.17)(2.575,5.08)(2.585,5.82)(2.595,4.63)(2.605,5.36)(2.615,4.29)(2.625,5.88)(2.635,4.87)(2.645,5.50)(2.655,4.45)(2.665,5.88)(2.675,4.94)(2.685,5.17)(2.695,4.63)
(2.705,5.75)(2.715,4.89)(2.725,5.36)(2.735,4.39)(2.745,5.03)(2.755,4.03)(2.765,5.39)(2.775,4.47)(2.785,5.06)(2.795,4.03)(2.805,4.63)(2.815,3.63)(2.825,5.04)(2.835,4.06)(2.845,4.62)(2.855,3.55)(2.865,4.97)(2.875,3.96)(2.885,4.18)(2.895,3.54)
(2.905,4.80)(2.915,3.71)(2.925,4.20)(2.935,2.94)(2.945,3.64)(2.955,2.30)(2.965,3.96)(2.975,2.70)(2.985,3.41)(2.995,1.93)(3.005,2.67)(3.015,1.24)(3.025,3.20)(3.035,1.75)(3.045,2.55)(3.055,0.90)(3.065,3.06)(3.075,1.50)(3.085,1.83)(3.095,0.81)
(3.105,2.80)(3.115,1.19)(3.125,2.01)(3.135,0.23)(3.145,1.36)(3.155,-0.45)(3.165,1.93)(3.175,0.27)(3.185,1.29)(3.195,-0.59)(3.205,0.44)(3.215,-1.22)(3.225,1.26)(3.235,-0.33)(3.245,0.67)(3.255,-0.99)(3.265,1.28)(3.275,-0.19)(3.285,0.18)(3.295,-0.66)
(3.305,1.10)(3.315,-0.19)(3.325,0.55)(3.335,-0.82)(3.345,0.14)
(3.355,-1.06)(3.365,0.74)(3.375,-0.40)(3.385,-0.05)(3.395,-0.74)
(3.405,0.85)(3.415,-0.29)(3.425,0.40)(3.435,-0.85)(3.445,0.05)(3.455,-1.19)(3.465,0.61)(3.475,-0.50)(3.485,0.29)(3.495,-0.96)(3.505,-0.16)(3.515,-1.30)(3.525,0.51)(3.535,-0.61)(3.545,0.16)(3.555,-1.06)(3.565,0.74)(3.575,-0.40)(3.585,-0.05)(3.595,-0.74)
(3.605,0.85)(3.615,-0.29)(3.625,0.40)(3.635,-0.85)(3.645,0.05)
(3.655,-0.96)(3.665,0.78)(3.675,-0.26)(3.685,0.48)(3.695,-0.68)(3.705,0.06)(3.715,-1.10)(3.725,0.68)(3.735,-0.36)(3.745,0.36)(3.755,-0.82)(3.765,0.90)(3.775,-0.16)(3.785,0.16)(3.795,-0.48)
(3.805,1.00)(3.815,-0.06)(3.825,0.58)(3.835,-0.58)(3.845,0.26)(3.855,-0.94)(3.865,0.78)(3.875,-0.26)(3.885,0.48)(3.895,-0.68)(3.905,0.06)(3.915,-1.08)(3.925,0.68)(3.935,-0.36)(3.945,0.36)(3.955,-0.80)(3.965,0.90)(3.975,-0.16)(3.985,0.16)(3.995,-0.48)
(4.005,1.00)(4.015,-0.06)(4.025,0.58)(4.035,-0.58)(4.045,0.26)(4.055,-0.92)(4.065,0.78)(4.075,-0.26)(4.085,0.48)(4.095,-0.68)(4.105,0.06)(4.115,-1.05)(4.125,0.68)(4.135,-0.36)(4.145,0.36)(4.155,-0.78)(4.165,0.90)(4.175,-0.16)(4.185,0.16)(4.195,-0.48)
(4.205,1.00)(4.215,-0.06)(4.225,0.58)(4.235,-0.58)(4.245,0.26)(4.255,-0.90)(4.265,0.78)(4.275,-0.26)(4.285,0.48)(4.295,-0.68)(4.305,0.06)(4.315,-1.00)(4.325,0.68)(4.335,-0.36)(4.345,0.36)(4.355,-0.78)(4.365,0.90)(4.375,-0.16)(4.385,0.16)(4.395,-0.48)
(4.405,1.00)(4.415,-0.06)(4.425,0.58)(4.435,-0.58)(4.445,0.26)(4.455,-0.90)(4.465,0.78)(4.475,-0.26)(4.485,0.48)(4.495,-0.68)(4.505,0.06)(4.515,-1.00)(4.525,0.68)(4.535,-0.36)(4.545,0.36)(4.555,-0.78)(4.565,0.90)(4.575,-0.16)(4.585,0.16)(4.595,-0.48)
(4.605,1.00)(4.615,-0.06)(4.625,0.58)(4.635,-0.58)(4.645,0.26)(4.655,-0.90)(4.665,0.78)(4.675,-0.26)(4.685,0.48)(4.695,-0.68)(4.705,0.06)(4.715,-1.00)(4.725,0.68)(4.735,-0.36)(4.745,0.36)(4.755,-0.78)(4.765,0.90)(4.775,-0.16)(4.785,0.16)(4.795,-0.48)
(4.805,1.00)(4.815,-0.06)(4.825,0.58)(4.835,-0.58)(4.845,0.26)(4.855,-0.90)(4.865,0.78)(4.875,-0.26)(4.885,0.48)(4.895,-0.68)(4.905,0.06)(4.915,-1.00)(4.925,0.68)(4.935,-0.36)(4.945,0.36)(4.955,-0.78)(4.965,0.90)(4.975,-0.16)(4.985,0.16)(4.995,-0.48)
};
\addplot[only marks, mark=o, mark size=1.8pt, blue, line width=0.65pt, lmark] coordinates {
(-5.0,0)(-4.9,0)(-4.8,0)(-4.7,0)(-4.6,0)(-4.5,0)(-4.4,0)(-4.3,0)(-4.2,0)(-4.1,0)
(-4.0,0)(-3.9,0)(-3.8,0)(-3.7,0)(-3.6,-0.01)(-3.5,-0.03)(-3.4,-0.07)(-3.3,-0.09)(-3.2,-0.05)(-3.1,0.12)
(-3.0,0.37)(-2.9,0.72)(-2.8,1.10)(-2.7,1.47)(-2.6,1.74)(-2.5,1.84)(-2.4,1.74)(-2.3,1.47)(-2.2,1.10)(-2.1,0.72)
(-2.0,0.37)(-1.9,0.12)(-1.8,-0.03)(-1.7,-0.08)(-1.6,-0.10)(-1.5,-0.06)(-1.4,-0.01)(-1.3,0.01)(-1.2,0.00)(-1.1,-0.03)
(-1.0,-0.07)(-0.9,-0.10)(-0.8,-0.08)(-0.7,-0.03)(-0.6,0.12)(-0.5,0.37)(-0.4,0.72)(-0.3,1.10)(-0.2,1.47)(-0.1,1.74)
(0.0,1.84)(0.1,1.74)(0.2,1.47)(0.3,1.10)(0.4,0.72)(0.5,0.37)(0.6,0.12)(0.7,-0.03)(0.8,-0.08)(0.9,-0.10)
(1.0,-0.07)(1.1,-0.03)(1.2,0.00)(1.3,0.01)(1.4,-0.01)(1.5,-0.06)(1.6,-0.10)(1.7,-0.08)(1.8,-0.03)(1.9,0.12)
(2.0,0.37)(2.1,0.72)(2.2,1.10)(2.3,1.47)(2.4,1.74)(2.5,1.84)(2.6,1.74)(2.7,1.47)(2.8,1.10)(2.9,0.72)
(3.0,0.37)(3.1,0.12)(3.2,-0.05)(3.3,-0.09)(3.4,-0.07)(3.5,-0.03)(3.6,-0.01)(3.7,0)(3.8,0)(3.9,0)
(4.0,0)(4.1,0)(4.2,0)(4.3,0)(4.4,0)(4.5,0)(4.6,0)(4.7,0)(4.8,0)(4.9,0)(5.0,0)
};
\addplot[black, line width=0.5pt, lline] coordinates {
  (-5,0) (-3,0) (-3,5) (-2,5) (-2,0) (-0.5,0) (-0.5,5) (0.5,5) (0.5,0)
  (2,0) (2,5) (3,5) (3,0) (5,0)
};
\legend{CFL=1.05998, CFL=0.999837, Exact}
\end{axis}
\end{tikzpicture}
\end{document}
